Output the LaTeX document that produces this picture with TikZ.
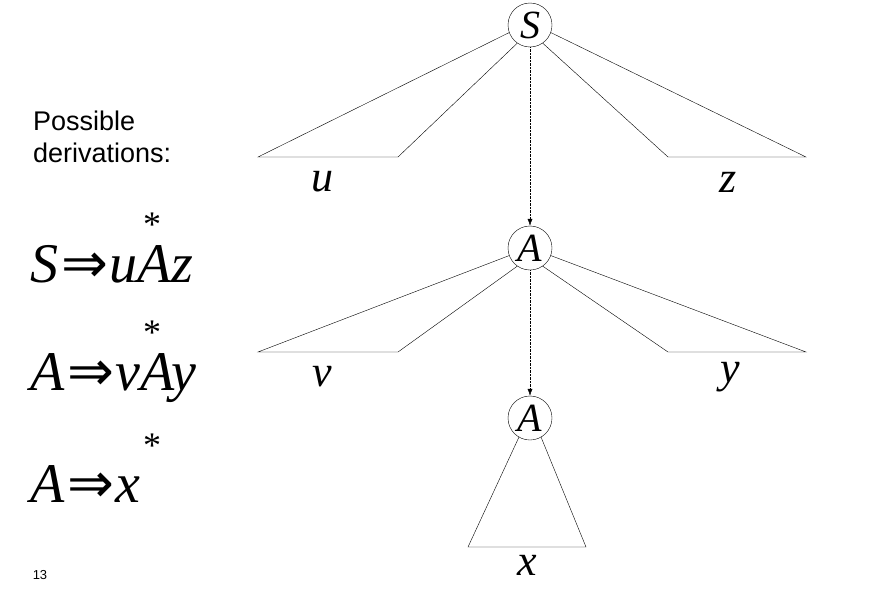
\documentclass[tikz,border=0pt]{standalone}
\usepackage{fontspec}
\setmainfont{Liberation Serif}
\newfontfamily\arialf{Liberation Sans}
\newfontfamily\dvs{DejaVu Sans}
\usetikzlibrary{arrows.meta}
\tikzset{nt/.style={circle,draw,thin,minimum size=44pt,inner sep=0pt,font=\fontsize{40}{40}\selectfont\itshape},
 tri/.style={draw,thin},
 lab/.style={font=\fontsize{44}{44}\selectfont\itshape},
 eq/.style={font=\fontsize{56}{56}\selectfont\itshape,anchor=base west,inner sep=0pt},
 star/.style={font=\fontsize{36}{36}\selectfont,inner sep=0pt},
 dl/.style={densely dotted,-{Latex[length=7pt,width=5pt]}}}
\newcommand{\arr}{\kern3pt{\upshape\dvs\fontsize{56}{56}\selectfont ⇒}\kern1pt}
\begin{document}
\begin{tikzpicture}[x=1pt,y=-1pt]
\useasboundingbox (0,0) rectangle (881,597);
\node[nt] (S) at (530,25) {S};
\node[nt] (A1) at (530,248) {A};
\node[nt] (A2) at (530,418) {A};
\coordinate (a1) at (258,157); \coordinate (a2) at (398,157);
\coordinate (b1) at (806,157); \coordinate (b2) at (668,157);
\draw[tri] (S.200) -- (a1) -- (a2) -- (S.235);
\draw[tri] (S.-20) -- (b1) -- (b2) -- (S.-55);
\coordinate (c1) at (258,352); \coordinate (c2) at (398,352);
\coordinate (d1) at (806,352); \coordinate (d2) at (668,352);
\draw[tri] (A1.200) -- (c1) -- (c2) -- (A1.235);
\draw[tri] (A1.-20) -- (d1) -- (d2) -- (A1.-55);
\coordinate (e1) at (468,547); \coordinate (e2) at (586,547);
\draw[tri] (A2.240) -- (e1) -- (e2) -- (A2.-60);
\draw[dl] (S) -- (A1);
\draw[dl] (A1) -- (A2);
\node[lab] (u) at (322,182) {u};
\node[lab] (z) at (728,182) {z};
\node[lab] (v) at (322,377) {v};
\node[lab] (y) at (730,377) {y};
\node[lab] (x) at (527,565) {x};
\node[align=left,anchor=west,inner sep=0pt,font=\arialf\fontsize{27}{32}\selectfont] (pd) at (33,137) {Possible\\derivations:};
\node[eq] (e1t) at (30,282) {S\arr uAz};
\node[star] (s1) at (152,225) {*};
\node[eq] (e2t) at (30,390) {A\arr vAy};
\node[star] (s2) at (152,333) {*};
\node[eq] (e3t) at (30,502) {A\arr x};
\node[star] (s3) at (152,446) {*};
\node[font=\arialf\fontsize{13}{13}\selectfont] (pg) at (40,575) {13};
\end{tikzpicture}
\end{document}
